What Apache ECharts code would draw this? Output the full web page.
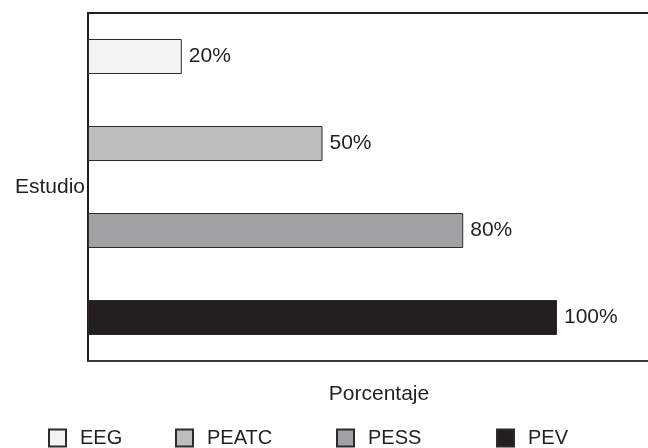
<!DOCTYPE html>
<html>
<head>
<meta charset="utf-8">
<script src="https://cdn.jsdelivr.net/npm/echarts@6/dist/echarts.min.js"></script>
<style>
  html, body { margin: 0; padding: 0; background: #ffffff; }
  #chart { width: 648px; height: 448px; }
</style>
</head>
<body>
<div id="chart"></div>
<script>
// Estudios y porcentaje alcanzado por cada uno
var categories = ['EEG', 'PEATC', 'PESS', 'PEV'];
var values = [20, 50, 80, 100];
var fills = ['#f2f3f2', '#bdbebd', '#a2a2a5', '#231f20'];
var legendLeft = [43, 170, 331, 491];

var FONT = '"Liberation Sans", Arial, Helvetica, sans-serif';
var INK = '#231f20';

// One series per study, each holding only its own category, stacked so every bar
// sits centred in its band while still getting its own legend entry.
var series = categories.map(function (name, i) {
  return {
    name: name,
    type: 'bar',
    stack: 'estudio',
    barWidth: 35,
    data: categories.map(function (c, j) { return j === i ? values[i] : '-'; }),
    itemStyle: { color: fills[i], borderColor: '#2b2b2b', borderWidth: 1 },
    label: {
      show: true,
      position: 'right',
      distance: 7,
      formatter: '{c}%',
      color: INK,
      fontFamily: FONT,
      fontSize: 21
    }
  };
});

var legends = categories.map(function (name, i) {
  return {
    data: [name],
    left: legendLeft[i],
    top: 423,
    orient: 'horizontal',
    itemWidth: 17,
    itemHeight: 17,
    icon: 'rect',
    selectedMode: false,
    textStyle: { color: INK, fontFamily: FONT, fontSize: 20, padding: [0, 0, 0, 9] }
  };
});

var option = {
  animation: false,
  backgroundColor: '#ffffff',
  grid: { left: 88, top: 13, right: 0, height: 348 },
  legend: legends,
  xAxis: [
    {
      type: 'value',
      position: 'bottom',
      min: 0,
      max: 119.4,
      axisLine: { show: true, lineStyle: { color: '#3a3a3a', width: 2 } },
      axisTick: { show: false },
      axisLabel: { show: false },
      splitLine: { show: false },
      name: 'Porcentaje',
      nameLocation: 'middle',
      nameGap: 23,
      nameTextStyle: { color: INK, fontFamily: FONT, fontSize: 21, padding: [0, 0, 0, 22] }
    },
    {
      type: 'value',
      position: 'top',
      min: 0,
      max: 119.4,
      axisLine: { show: true, lineStyle: { color: INK, width: 2 } },
      axisTick: { show: false },
      axisLabel: { show: false },
      splitLine: { show: false }
    }
  ],
  yAxis: {
    type: 'category',
    data: categories,
    inverse: true,
    axisLine: { show: true, lineStyle: { color: INK, width: 2 } },
    axisTick: { show: false },
    axisLabel: { show: false },
    splitLine: { show: false },
    name: 'Estudio',
    nameLocation: 'middle',
    nameRotate: 0,
    nameGap: 3,
    nameTextStyle: { color: INK, fontFamily: FONT, fontSize: 21, align: 'right', padding: [0, 0, 12, 0] }
  },
  series: series
};

var chart = echarts.init(document.getElementById('chart'), null, { renderer: 'canvas' });
chart.setOption(option);
</script>
</body>
</html>
